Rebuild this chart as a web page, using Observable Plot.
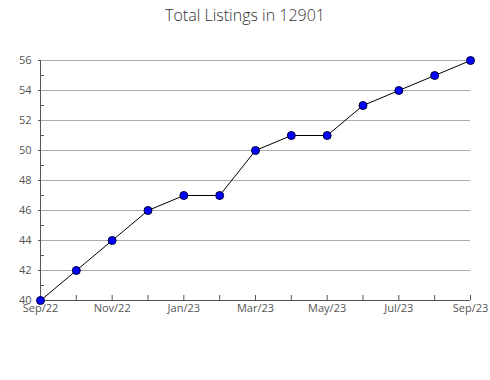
<!DOCTYPE html>
<html>
<head>
<meta charset="utf-8">
<script src="https://cdn.jsdelivr.net/npm/d3@7"></script>
<script src="https://cdn.jsdelivr.net/npm/@observablehq/plot@0.6"></script>
<style>
  html, body { margin: 0; padding: 0; background: #fff; font-family: "Open Sans", sans-serif; overflow: hidden; }
  #title { height: 30px; line-height: 30px; text-align: center; font-size: 16px; color: #333; font-weight: 300; }
  #chart svg { display: block; max-width: none; }
</style>
</head>
<body>
<div id="title">Total Listings in 12901</div>
<div id="chart"></div>
<script>
const months = ["Sep/22","Oct/22","Nov/22","Dec/22","Jan/23","Feb/23","Mar/23","Apr/23","May/23","Jun/23","Jul/23","Aug/23","Sep/23"];
const listings = [40, 42, 44, 46, 47, 47, 50, 51, 51, 53, 54, 55, 56];
const xLabels = ["Sep/22","Nov/22","Jan/23","Mar/23","May/23","Jul/23","Sep/23"];
const yMajor = [40, 42, 44, 46, 48, 50, 52, 54, 56];
const yMinor = [41, 43, 45, 47, 49, 51, 53, 55];

const data = months.map((m, i) => ({month: m, value: listings[i]}));

const chart = Plot.plot({
  width: 490,
  height: 350,
  marginTop: 30,
  marginBottom: 80,
  marginLeft: 40,
  marginRight: 20,
  style: {fontFamily: "Open Sans", fontSize: "11px", color: "#555", background: "transparent"},
  x: {type: "point", domain: months, padding: 0, round: false},
  y: {domain: [40, 56]},
  marks: [
    Plot.ruleY(yMajor.slice(1), {stroke: "#aaa", strokeWidth: 1, strokeOpacity: 1}),
    Plot.axisY(yMajor, {tickSize: 2, tickPadding: 7, stroke: "#555", fill: "#555", label: null}),
    Plot.axisY(yMinor, {tickSize: -4, tickFormat: () => "", stroke: "#555", label: null}),
    Plot.axisX(months, {tickSize: -5, tickFormat: () => "", stroke: "#555", label: null}),
    Plot.axisX(xLabels, {tickSize: 0, tickPadding: 4, fill: "#555", label: null}),
    Plot.ruleY([40], {stroke: "#555"}),
    Plot.ruleX([months[0]], {stroke: "#555"}),
    Plot.line(data, {x: "month", y: "value", stroke: "#000", strokeWidth: 1}),
    Plot.dot(data, {x: "month", y: "value", r: 4, fill: "#0000ff", stroke: "#000033", strokeWidth: 1})
  ]
});
document.getElementById("chart").append(chart);
</script>
</body>
</html>
